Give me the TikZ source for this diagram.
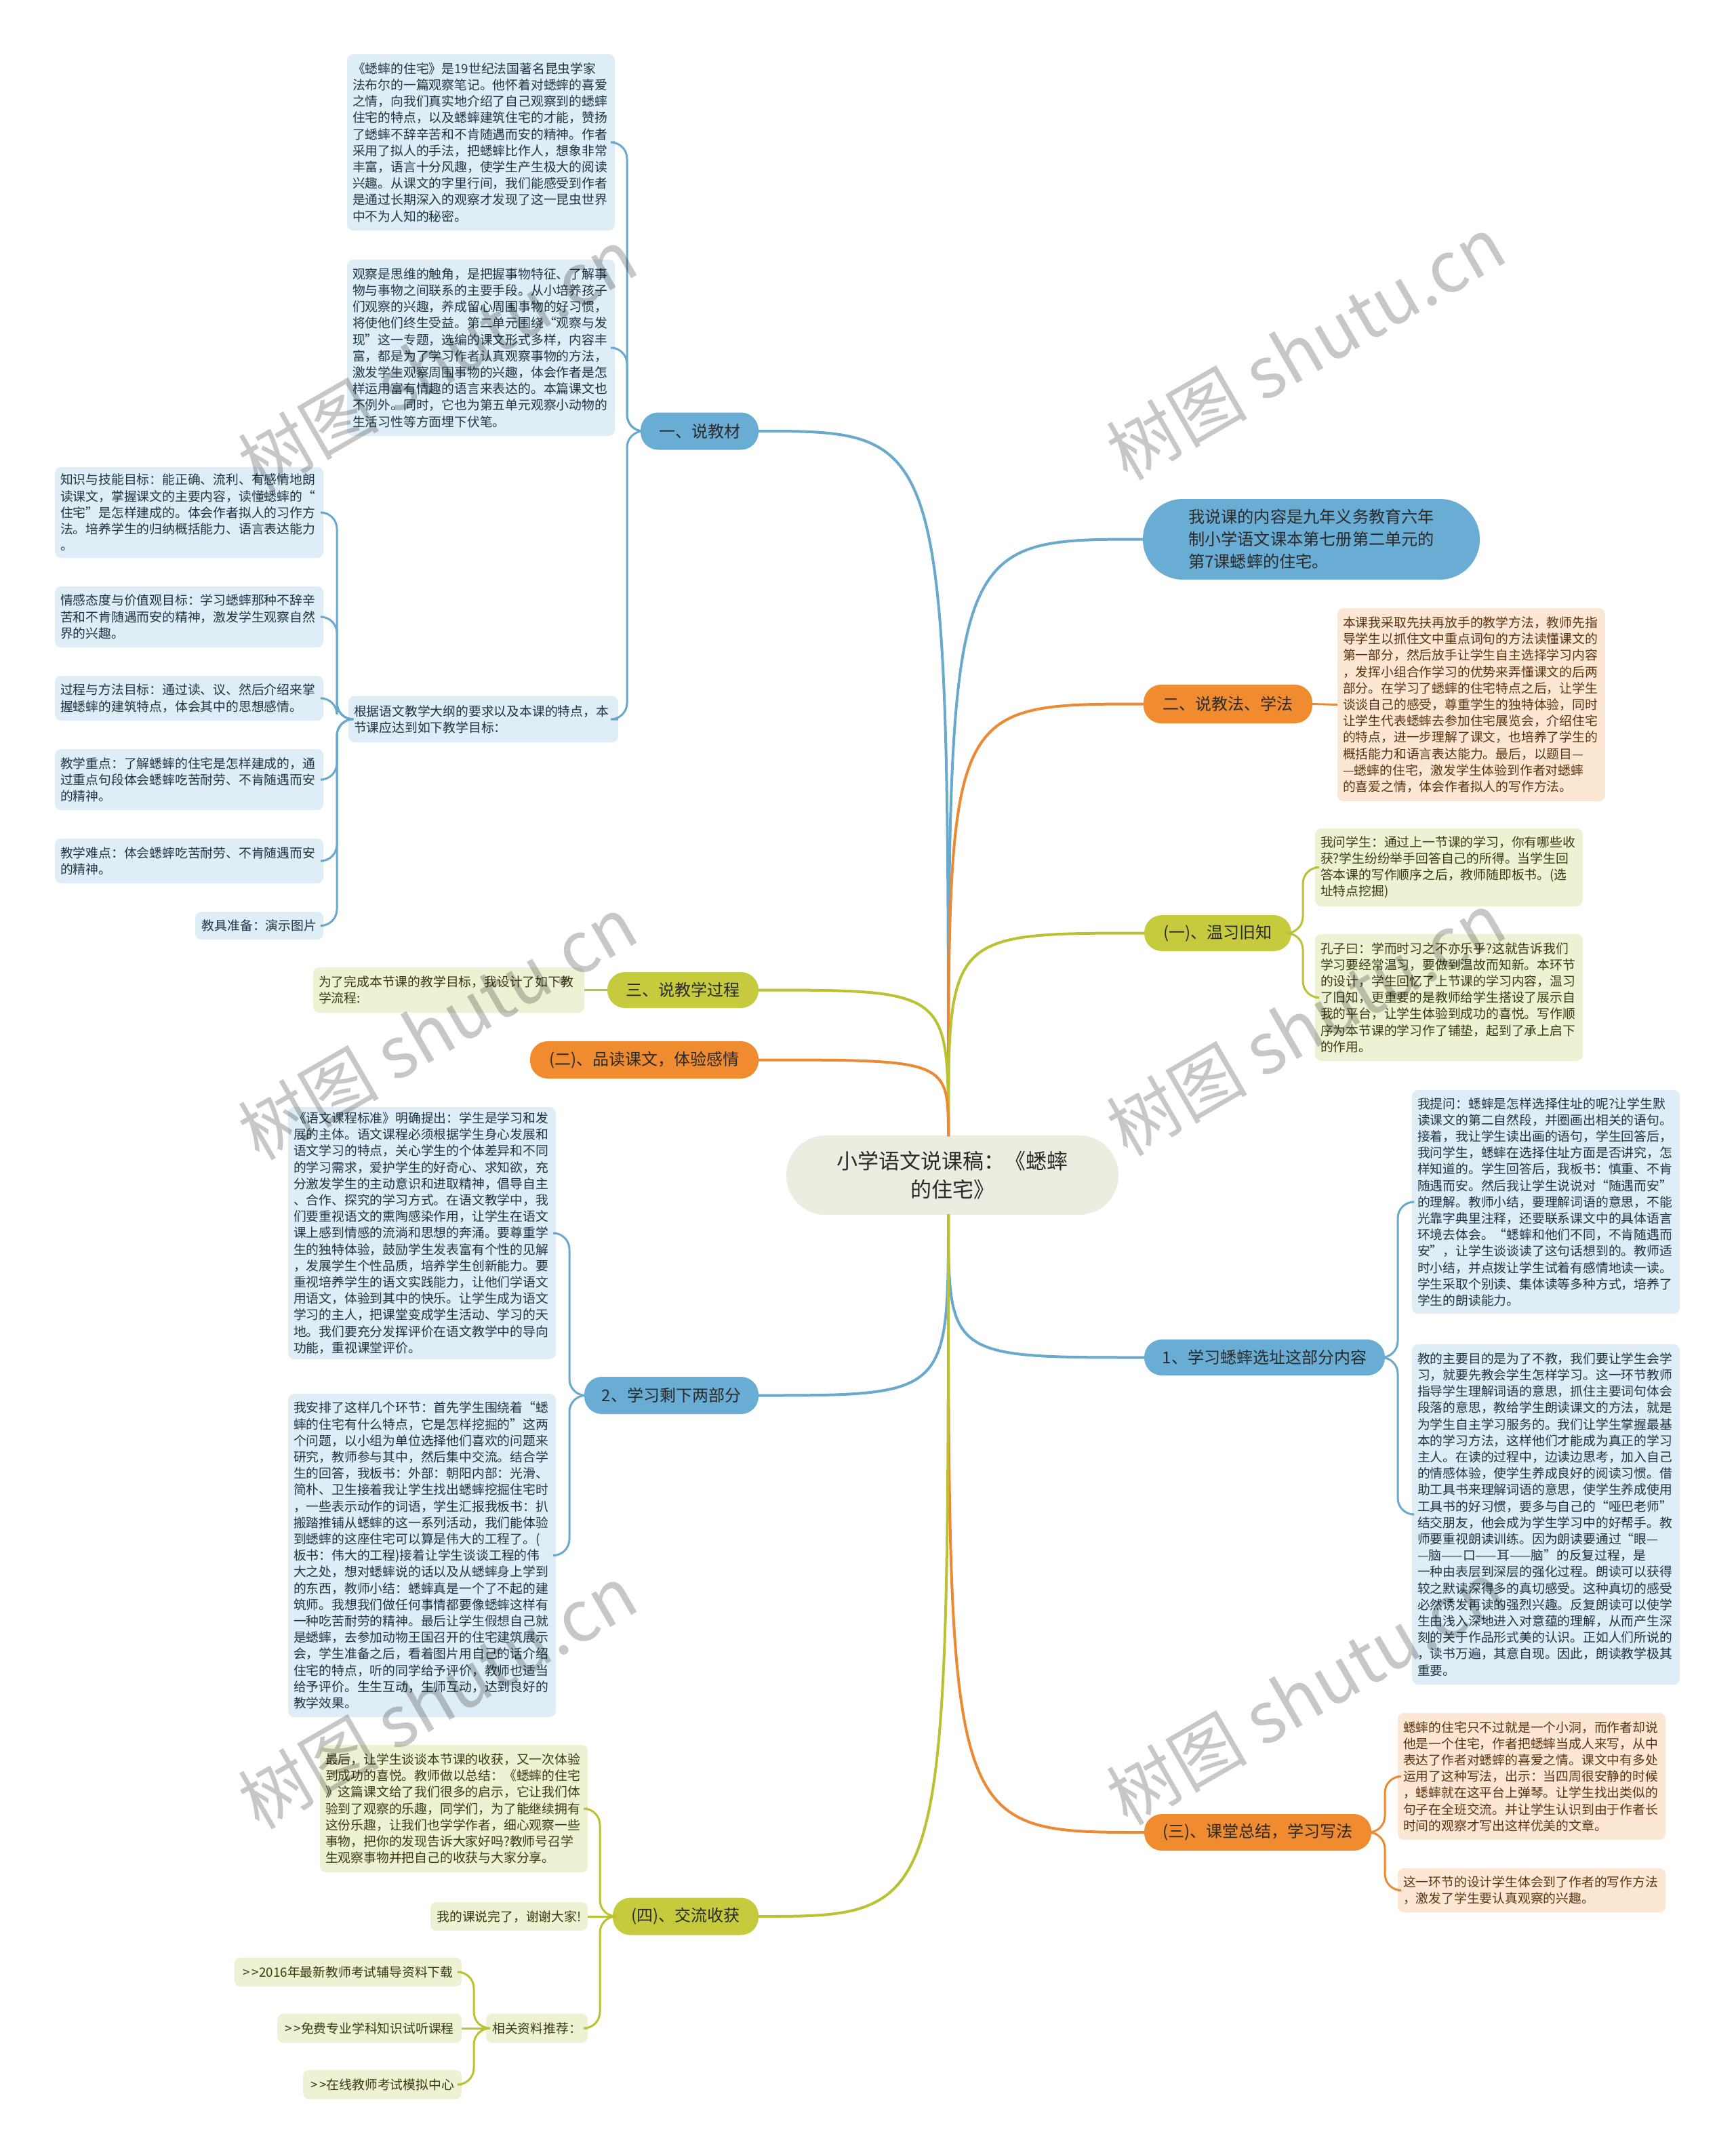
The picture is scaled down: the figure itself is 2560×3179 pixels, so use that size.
\documentclass[tikz,border=0pt]{standalone}
\usepackage{fontspec}
\setmainfont{Noto Sans CJK SC}
\definecolor{cBlue}{HTML}{69ADD5}
\definecolor{cBlueLn}{HTML}{6AA9CE}
\definecolor{cBlueBox}{HTML}{DEEDF6}
\definecolor{cBlueTx}{HTML}{1F3545}
\definecolor{cOrange}{HTML}{F08B30}
\definecolor{cOrangeLn}{HTML}{EC8A34}
\definecolor{cOrangeBox}{HTML}{FCE6D4}
\definecolor{cOrangeTx}{HTML}{5A3510}
\definecolor{cGreen}{HTML}{C6CB3E}
\definecolor{cGreenLn}{HTML}{BAC232}
\definecolor{cGreenBox}{HTML}{EFF1D4}
\definecolor{cGreenTx}{HTML}{3A3A12}
\definecolor{cCenter}{HTML}{EDECE0}
\definecolor{cPillTx}{HTML}{2A2A2A}
\newcommand{\gtgt}{>\kern3pt>}
\tikzset{
  pill/.style={rounded corners=26pt, inner sep=0pt, align=center, text=cPillTx,
    font=\fontsize{24}{31}\selectfont},
  bluepill/.style={pill, fill=cBlue},
  orangepill/.style={pill, fill=cOrange},
  greenpill/.style={pill, fill=cGreen},
  box/.style={rounded corners=9pt, inner xsep=8pt, inner ysep=0pt, align=left,
    font=\fontsize{18.8}{24.2}\selectfont},
  bluebox/.style={box, fill=cBlueBox, text=cBlueTx},
  orangebox/.style={box, fill=cOrangeBox, text=cOrangeTx},
  greenbox/.style={box, fill=cGreenBox, text=cGreenTx},
  mainln/.style={line width=4pt},
  subln/.style={line width=3pt, rounded corners=24pt},
  wm/.style={rotate=30, text=black, text opacity=0.22, font=\fontsize{104}{110}\selectfont}
}
\begin{document}
\begin{tikzpicture}[x=1pt,y=-1pt]
\useasboundingbox (0,0) rectangle (2560,3179);
\fill[white] (0,0) rectangle (2560,3179);

% ---------- nodes ----------
\node[fill=cCenter, rounded corners=58pt, minimum width=490pt, minimum height=117pt, inner sep=0pt,
  align=center, text=cPillTx, font=\fontsize{31}{42}\selectfont] (C) at (1405,1733.5)
  {小学语文说课稿：《蟋蟀\\的住宅》};
\coordinate (ctop) at (1399,1676);
\coordinate (cbot) at (1399,1791);

\node[bluepill, minimum width=174pt, minimum height=55pt] (P1) at (1032,636) {一、说教材};
\node[bluepill, rounded corners=59pt, minimum width=497pt, minimum height=119pt,
  align=left, font=\fontsize{24.2}{33}\selectfont] (R0) at (1934.5,795.5)
  {我说课的内容是九年义务教育六年\\制小学语文课本第七册第二单元的\\第7课蟋蟀的住宅。};
\node[orangepill, minimum width=249pt, minimum height=57pt] (P2) at (1811.5,1038.5) {二、说教法、学法};
\node[greenpill, minimum width=217pt, minimum height=53pt] (P3) at (1796.5,1376.5) {(一)、温习旧知};
\node[greenpill, minimum width=223pt, minimum height=53pt] (P4) at (1007.5,1460.5) {三、说教学过程};
\node[orangepill, minimum width=337pt, minimum height=55pt] (P5) at (950.5,1563.5) {(二)、品读课文，体验感情};
\node[bluepill, minimum width=355pt, minimum height=53pt] (P6) at (1865.5,2002.5) {1、学习蟋蟀选址这部分内容};
\node[bluepill, minimum width=257pt, minimum height=55pt] (P7) at (990.5,2058.5) {2、学习剩下两部分};
\node[orangepill, minimum width=335pt, minimum height=54pt] (P8) at (1855.5,2703) {(三)、课堂总结，学习写法};
\node[greenpill, minimum width=215pt, minimum height=55pt] (P9) at (1011.5,2827) {(四)、交流收获};

% blue boxes (说教材)
\node[bluebox, text width=379pt, minimum height=260pt] (A1) at (709.5,210) {%
《蟋蟀的住宅》是19世纪法国著名昆虫学家\\
法布尔的一篇观察笔记。他怀着对蟋蟀的喜爱\\
之情，向我们真实地介绍了自己观察到的蟋蟀\\
住宅的特点，以及蟋蟀建筑住宅的才能，赞扬\\
了蟋蟀不辞辛苦和不肯随遇而安的精神。作者\\
采用了拟人的手法，把蟋蟀比作人，想象非常\\
丰富，语言十分风趣，使学生产生极大的阅读\\
兴趣。从课文的字里行间，我们能感受到作者\\
是通过长期深入的观察才发现了这一昆虫世界\\
中不为人知的秘密。};
\node[bluebox, text width=379pt, minimum height=260pt] (A2) at (709.5,513) {%
观察是思维的触角，是把握事物特征、了解事\\
物与事物之间联系的主要手段。从小培养孩子\\
们观察的兴趣，养成留心周围事物的好习惯，\\
将使他们终生受益。第二单元围绕“观察与发\\
现”这一专题，选编的课文形式多样，内容丰\\
富，都是为了学习作者认真观察事物的方法，\\
激发学生观察周围事物的兴趣，体会作者是怎\\
样运用富有情趣的语言来表达的。本篇课文也\\
不例外。同时，它也为第五单元观察小动物的\\
生活习性等方面埋下伏笔。};
\node[bluebox, text width=382pt, minimum height=68pt] (A3) at (713,1061) {%
根据语文教学大纲的要求以及本课的特点，本\\
节课应达到如下教学目标：};

\node[bluebox, text width=380pt, minimum height=134pt] (L1) at (279,756) {%
知识与技能目标：能正确、流利、有感情地朗\\
读课文，掌握课文的主要内容，读懂蟋蟀的“\\
住宅”是怎样建成的。体会作者拟人的习作方\\
法。培养学生的归纳概括能力、语言表达能力\\
。};
\node[bluebox, text width=380pt, minimum height=90pt] (L2) at (279,910) {%
情感态度与价值观目标：学习蟋蟀那种不辞辛\\
苦和不肯随遇而安的精神，激发学生观察自然\\
界的兴趣。};
\node[bluebox, text width=380pt, minimum height=66pt] (L3) at (279,1030) {%
过程与方法目标：通过读、议、然后介绍来掌\\
握蟋蟀的建筑特点，体会其中的思想感情。};
\node[bluebox, text width=380pt, minimum height=90pt] (L4) at (279,1150) {%
教学重点：了解蟋蟀的住宅是怎样建成的，通\\
过重点句段体会蟋蟀吃苦耐劳、不肯随遇而安\\
的精神。};
\node[bluebox, text width=380pt, minimum height=66pt] (L5) at (279,1270) {%
教学难点：体会蟋蟀吃苦耐劳、不肯随遇而安\\
的精神。};
\node[bluebox, minimum width=189pt, minimum height=41pt] (L6) at (382.5,1365.5) {教具准备：演示图片};

% orange box (说教法)
\node[orangebox, text width=379pt, minimum height=285pt] (O1) at (2170.5,1039.5) {%
本课我采取先扶再放手的教学方法，教师先指\\
导学生以抓住文中重点词句的方法读懂课文的\\
第一部分，然后放手让学生自主选择学习内容\\
，发挥小组合作学习的优势来弄懂课文的后两\\
部分。在学习了蟋蟀的住宅特点之后，让学生\\
谈谈自己的感受，尊重学生的独特体验，同时\\
让学生代表蟋蟀去参加住宅展览会，介绍住宅\\
的特点，进一步理解了课文，也培养了学生的\\
概括能力和语言表达能力。最后，以题目—\\
—蟋蟀的住宅，激发学生体验到作者对蟋蟀\\
的喜爱之情，体会作者拟人的写作方法。};

% green boxes (温习旧知)
\node[greenbox, text width=379pt, minimum height=115pt] (Y1) at (2137.5,1279.5) {%
我问学生：通过上一节课的学习，你有哪些收\\
获?学生纷纷举手回答自己的所得。当学生回\\
答本课的写作顺序之后，教师随即板书。(选\\
址特点挖掘)};
\node[greenbox, text width=379pt, minimum height=187pt] (Y2) at (2137.5,1471.5) {%
孔子曰：学而时习之不亦乐乎?这就告诉我们\\
学习要经常温习，要做到温故而知新。本环节\\
的设计，学生回忆了上节课的学习内容，温习\\
了旧知，更重要的是教师给学生搭设了展示自\\
我的平台，让学生体验到成功的喜悦。写作顺\\
序为本节课的学习作了铺垫，起到了承上启下\\
的作用。};
\node[greenbox, text width=384pt, minimum height=67pt] (Y0) at (662,1460.5) {%
为了完成本节课的教学目标，我设计了如下教\\
学流程:};

% blue boxes right (选址)
\node[bluebox, text width=379pt, minimum height=330pt] (B1) at (2280.5,1773) {%
我提问：蟋蟀是怎样选择住址的呢?让学生默\\
读课文的第二自然段，并圈画出相关的语句。\\
接着，我让学生读出画的语句，学生回答后，\\
我问学生，蟋蟀在选择住址方面是否讲究，怎\\
样知道的。学生回答后，我板书：慎重、不肯\\
随遇而安。然后我让学生说说对“随遇而安”\\
的理解。教师小结，要理解词语的意思，不能\\
光靠字典里注释，还要联系课文中的具体语言\\
环境去体会。“蟋蟀和他们不同，不肯随遇而\\
安”，让学生谈谈读了这句话想到的。教师适\\
时小结，并点拨让学生试着有感情地读一读。\\
学生采取个别读、集体读等多种方式，培养了\\
学生的朗读能力。};
\node[bluebox, text width=379pt, minimum height=502pt] (B2) at (2280.5,2234) {%
教的主要目的是为了不教，我们要让学生会学\\
习，就要先教会学生怎样学习。这一环节教师\\
指导学生理解词语的意思，抓住主要词句体会\\
段落的意思，教给学生朗读课文的方法，就是\\
为学生自主学习服务的。我们让学生掌握最基\\
本的学习方法，这样他们才能成为真正的学习\\
主人。在读的过程中，边读边思考，加入自己\\
的情感体验，使学生养成良好的阅读习惯。借\\
助工具书来理解词语的意思，使学生养成使用\\
工具书的好习惯，要多与自己的“哑巴老师”\\
结交朋友，他会成为学生学习中的好帮手。教\\
师要重视朗读训练。因为朗读要通过“眼—\\
—脑——口——耳——脑”的反复过程，是\\
一种由表层到深层的强化过程。朗读可以获得\\
较之默读深得多的真切感受。这种真切的感受\\
必然诱发再读的强烈兴趣。反复朗读可以使学\\
生由浅入深地进入对意蕴的理解，从而产生深\\
刻的关于作品形式美的认识。正如人们所说的\\
，读书万遍，其意自现。因此，朗读教学极其\\
重要。};

% blue boxes left (剩下两部分)
\node[bluebox, text width=379pt, minimum height=372pt] (B3) at (622.5,1819) {%
《语文课程标准》明确提出：学生是学习和发\\
展的主体。语文课程必须根据学生身心发展和\\
语文学习的特点，关心学生的个体差异和不同\\
的学习需求，爱护学生的好奇心、求知欲，充\\
分激发学生的主动意识和进取精神，倡导自主\\
、合作、探究的学习方式。在语文教学中，我\\
们要重视语文的熏陶感染作用，让学生在语文\\
课上感到情感的流淌和思想的奔涌。要尊重学\\
生的独特体验，鼓励学生发表富有个性的见解\\
，发展学生个性品质，培养学生创新能力。要\\
重视培养学生的语文实践能力，让他们学语文\\
用语文，体验到其中的快乐。让学生成为语文\\
学习的主人，把课堂变成学生活动、学习的天\\
地。我们要充分发挥评价在语文教学中的导向\\
功能，重视课堂评价。};
\node[bluebox, text width=379pt, minimum height=477pt] (B4) at (622.5,2294.5) {%
我安排了这样几个环节：首先学生围绕着“蟋\\
蟀的住宅有什么特点，它是怎样挖掘的”这两\\
个问题，以小组为单位选择他们喜欢的问题来\\
研究，教师参与其中，然后集中交流。结合学\\
生的回答，我板书：外部：朝阳内部：光滑、\\
简朴、卫生接着我让学生找出蟋蟀挖掘住宅时\\
，一些表示动作的词语，学生汇报我板书：扒\\
搬踏推铺从蟋蟀的这一系列活动，我们能体验\\
到蟋蟀的这座住宅可以算是伟大的工程了。(\\
板书：伟大的工程)接着让学生谈谈工程的伟\\
大之处，想对蟋蟀说的话以及从蟋蟀身上学到\\
的东西，教师小结：蟋蟀真是一个了不起的建\\
筑师。我想我们做任何事情都要像蟋蟀这样有\\
一种吃苦耐劳的精神。最后让学生假想自己就\\
是蟋蟀，去参加动物王国召开的住宅建筑展示\\
会，学生准备之后，看着图片用自己的话介绍\\
住宅的特点，听的同学给予评价，教师也适当\\
给予评价。生生互动，生师互动，达到良好的\\
教学效果。};

% orange boxes (课堂总结)
\node[orangebox, text width=379pt, minimum height=187pt] (O2) at (2259.5,2620.5) {%
蟋蟀的住宅只不过就是一个小洞，而作者却说\\
他是一个住宅，作者把蟋蟀当成人来写，从中\\
表达了作者对蟋蟀的喜爱之情。课文中有多处\\
运用了这种写法，出示：当四周很安静的时候\\
，蟋蟀就在这平台上弹琴。让学生找出类似的\\
句子在全班交流。并让学生认识到由于作者长\\
时间的观察才写出这样优美的文章。};
\node[orangebox, text width=379pt, minimum height=65pt] (O3) at (2259.5,2788.5) {%
这一环节的设计学生体会到了作者的写作方法\\
，激发了学生要认真观察的兴趣。};

% green boxes (交流收获)
\node[greenbox, text width=379pt, minimum height=188pt] (Y4) at (669.5,2668) {%
最后，让学生谈谈本节课的收获，又一次体验\\
到成功的喜悦。教师做以总结：《蟋蟀的住宅\\
》这篇课文给了我们很多的启示，它让我们体\\
验到了观察的乐趣，同学们，为了能继续拥有\\
这份乐趣，让我们也学学作者，细心观察一些\\
事物，把你的发现告诉大家好吗?教师号召学\\
生观察事物并把自己的收获与大家分享。};
\node[greenbox, minimum width=232pt, minimum height=42pt] (Y5) at (751,2827) {我的课说完了，谢谢大家!};
\node[greenbox, minimum width=150pt, minimum height=43pt] (Y6) at (792,2992) {相关资料推荐：};
\node[greenbox, minimum width=335pt, minimum height=43pt] (K1) at (513.5,2909) {\gtgt 2016年最新教师考试辅导资料下载};
\node[greenbox, minimum width=272pt, minimum height=43pt] (K2) at (545,2992) {\gtgt 免费专业学科知识试听课程};
\node[greenbox, minimum width=234pt, minimum height=43pt] (K3) at (564,3075) {\gtgt 在线教师考试模拟中心};

% ---------- main connectors ----------
\draw[mainln, cBlueLn]   (ctop) .. controls (ctop |- P1.east) .. (P1.east);
\draw[mainln, cBlueLn]   (ctop) .. controls (ctop |- R0.west) .. (R0.west);
\draw[mainln, cOrangeLn] (ctop) .. controls (ctop |- P2.west) .. (P2.west);
\draw[mainln, cGreenLn]  (ctop) .. controls (ctop |- P3.west) .. (P3.west);
\draw[mainln, cGreenLn]  (ctop) .. controls (ctop |- P4.east) .. (P4.east);
\draw[mainln, cOrangeLn] (ctop) .. controls (ctop |- P5.east) .. (P5.east);
\draw[mainln, cBlueLn]   (cbot) .. controls (cbot |- P6.west) .. (P6.west);
\draw[mainln, cBlueLn]   (cbot) .. controls (cbot |- P7.east) .. (P7.east);
\draw[mainln, cOrangeLn] (cbot) .. controls (cbot |- P8.west) .. (P8.west);
\draw[mainln, cGreenLn]  (cbot) .. controls (cbot |- P9.east) .. (P9.east);

% ---------- sub connectors ----------
\coordinate (j1) at (925,636);
\draw[subln, cBlueLn] (P1.west) -- (j1) |- (A1.east);
\draw[subln, cBlueLn] (P1.west) -- (j1) |- (A2.east);
\draw[subln, cBlueLn] (P1.west) -- (j1) |- (A3.east);
\coordinate (jA3) at (497,1061);
\foreach \n in {L1,L2,L3,L4,L5,L6}
  \draw[subln, cBlueLn] (A3.west) -- (jA3) |- (\n.east);
\draw[subln, cOrangeLn] (P2.east) -- (O1.west);
\coordinate (j3) at (1922,1376.5);
\draw[subln, cGreenLn] (P3.east) -- (j3) |- (Y1.west);
\draw[subln, cGreenLn] (P3.east) -- (j3) |- (Y2.west);
\draw[subln, cGreenLn] (P4.west) -- (Y0.east);
\coordinate (j6) at (2062,2002.5);
\draw[subln, cBlueLn] (P6.east) -- (j6) |- (B1.west);
\draw[subln, cBlueLn] (P6.east) -- (j6) |- (B2.west);
\coordinate (j7) at (840,2058.5);
\draw[subln, cBlueLn] (P7.west) -- (j7) |- (B3.east);
\draw[subln, cBlueLn] (P7.west) -- (j7) |- (B4.east);
\coordinate (j8) at (2043,2703);
\draw[subln, cOrangeLn] (P8.east) -- (j8) |- (O2.west);
\draw[subln, cOrangeLn] (P8.east) -- (j8) |- (O3.west);
\coordinate (j9) at (885,2827);
\draw[subln, cGreenLn] (P9.west) -- (j9) |- (Y4.east);
\draw[subln, cGreenLn] (P9.west) -- (Y5.east);
\draw[subln, cGreenLn] (P9.west) -- (j9) |- (Y6.east);
\coordinate (jY6) at (699,2992);
\draw[subln, cGreenLn] (Y6.west) -- (jY6) |- (K1.east);
\draw[subln, cGreenLn] (Y6.west) -- (K2.east);
\draw[subln, cGreenLn] (Y6.west) -- (jY6) |- (K3.east);

% ---------- watermarks ----------
\node[wm] (w1) at (645,531) {树图 shutu.cn};
\node[wm] (w2) at (1926,513) {树图 shutu.cn};
\node[wm] (w3) at (645,1516) {树图 shutu.cn};
\node[wm] (w4) at (1926,1510) {树图 shutu.cn};
\node[wm] (w5) at (645,2503) {树图 shutu.cn};
\node[wm] (w6) at (1926,2497) {树图 shutu.cn};
\end{tikzpicture}
\end{document}
